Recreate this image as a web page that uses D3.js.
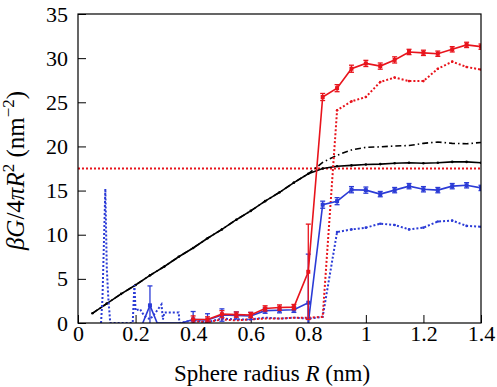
<!DOCTYPE html>
<html>
<head>
<meta charset="utf-8">
<script src="https://cdn.jsdelivr.net/npm/d3@7"></script>
<style>
  body { margin: 0; background: #fff; }
  svg text { font-family: "Liberation Serif", "Times New Roman", serif !important; fill: #000; }
  .axis text { font-size: 22px; }
  .axis path { display: none; }
  .axis line { stroke: #000; stroke-width: 1; }
</style>
</head>
<body>
<div id="chart"></div>
<script>
// ---- data ----
var xTicks = [0, 0.2, 0.4, 0.6, 0.8, 1, 1.2, 1.4];
var yTicks = [0, 5, 10, 15, 20, 25, 30, 35];
var refLevel = 17.5;

// black curves (solid and dash-dot share the rising part)
var blackR = [0.05,0.1,0.15,0.2,0.25,0.3,0.35,0.4,0.45,0.5,0.55,0.6,0.65,0.7,0.75,0.8,
              0.85,0.9,0.95,1.0,1.05,1.1,1.15,1.2,1.25,1.3,1.35,1.4];
var blackSolid = [1.1,2.2,3.3,4.3,5.4,6.4,7.5,8.5,9.6,10.6,11.7,12.7,13.8,14.8,15.9,16.9,
                  17.5,17.75,17.85,17.95,18.0,18.1,18.15,18.1,18.15,18.25,18.25,18.15];
var blackDashDot = [1.1,2.2,3.3,4.3,5.4,6.4,7.5,8.5,9.6,10.6,11.7,12.7,13.8,14.8,15.9,16.9,
                    18.2,19.0,19.6,19.9,19.95,20.05,20.1,20.35,20.5,20.35,20.3,20.45];

// red solid with error bars
var redR = [0.4,0.45,0.5,0.55,0.6,0.65,0.7,0.75,0.8,0.85,0.9,0.95,1.0,1.05,1.1,1.15,1.2,1.25,1.3,1.35,1.4];
var redVal = [0.4,0.4,1.0,0.95,0.9,1.65,1.75,1.8,5.8,25.6,26.6,28.8,29.4,29.1,29.8,30.7,30.6,30.5,31.0,31.5,31.3];
var redErr = [0.4,0.3,0.4,0.3,0.3,0.3,0.3,0.3,5.4,0.4,0.4,0.4,0.35,0.35,0.35,0.3,0.3,0.3,0.3,0.3,0.3];

// red dotted
var redDotR = [0.4,0.45,0.5,0.55,0.6,0.65,0.7,0.75,0.8,0.85,0.9,0.95,1.0,1.05,1.1,1.15,1.2,1.25,1.3,1.35,1.4];
var redDotVal = [0.2,0.1,0.4,0.3,0.4,0.5,0.5,0.6,0.6,0.7,24.1,25.1,25.6,27.3,27.8,27.4,27.4,28.8,29.6,29.0,28.7];

// blue solid with error bars
var blueR = [0.225,0.25,0.275,0.36,0.4,0.45,0.5,0.55,0.6,0.65,0.7,0.75,0.8,0.8,
             0.85,0.9,0.95,1.0,1.05,1.1,1.15,1.2,1.25,1.3,1.35,1.4];
var blueVal = [0,2.0,0,0,0.4,0.35,0.9,0.85,0.8,1.4,1.45,1.5,2.3,0,
               13.4,13.8,15.1,15.05,14.6,15.05,15.5,15.15,15.05,15.5,15.6,15.3];
var blueErr = [0,2.2,0,0,0.9,0.7,0.7,0.4,0.4,0.3,0.3,0.3,5.5,0,
               0.4,0.4,0.35,0.35,0.3,0.3,0.3,0.3,0.3,0.3,0.3,0.3];

// blue dotted
var blueDotR = [0.08,0.085,0.095,0.1,0.105,0.112,0.19,0.196,0.2,0.215,0.23,0.25,0.27,0.29,0.295,0.3,
                0.35,0.352,0.4,0.45,0.5,0.55,0.6,0.65,0.7,0.75,0.8,0.85,0.875,
                0.9,0.95,1.0,1.05,1.1,1.15,1.2,1.25,1.3,1.35,1.4];
var blueDotVal = [0,2.8,15.2,6.2,3.0,0,0,4.3,1.4,1.6,0.8,0.4,1.2,2.1,0.4,1.2,
                  1.2,0,0.3,0.1,0.5,0.4,0.4,0.6,0.5,0.6,0.5,0.7,5.5,
                  10.3,10.6,10.8,11.25,11.1,10.6,10.8,11.5,11.6,11.0,10.9];

var RED = "#e8141c", BLUE = "#2b3bd6";
var SERIF = "'Liberation Serif', 'Times New Roman', serif";

function zip(xs, ys, es) {
  return xs.map(function(x, i) { return { r: x, v: ys[i], e: es ? es[i] : 0 }; });
}

// margin convention
var margin = { top: 14, right: 16, bottom: 64, left: 78 },
    width = 497 - margin.left - margin.right,
    height = 387 - margin.top - margin.bottom;

var svg = d3.select("#chart").append("svg")
    .attr("width", 497)
    .attr("height", 387)
  .append("g")
    .attr("transform", "translate(" + margin.left + "," + margin.top + ")");

var xScale = d3.scaleLinear().domain([0, 1.4]).range([0, width]);
var yScale = d3.scaleLinear().domain([0, 35]).range([height, 0]);

svg.append("clipPath").attr("id", "plot-clip")
  .append("rect").attr("width", width).attr("height", height);

// axes, ticks pointing inward
svg.append("g")
    .attr("class", "x axis")
    .attr("transform", "translate(0," + height + ")")
    .call(d3.axisBottom(xScale).tickValues(xTicks).tickSizeInner(-8).tickSizeOuter(0)
      .tickPadding(2).tickFormat(d3.format("")))
    .attr("font-family", SERIF).attr("font-size", 22);

svg.append("g")
    .attr("class", "y axis")
    .call(d3.axisLeft(yScale).tickValues(yTicks).tickSizeInner(-8).tickSizeOuter(0)
      .tickPadding(10))
    .attr("font-family", SERIF).attr("font-size", 22);

var plot = svg.append("g").attr("clip-path", "url(#plot-clip)");

var line = d3.line()
    .x(function(d) { return xScale(d.r); })
    .y(function(d) { return yScale(d.v); });

// reference level
plot.append("line")
    .attr("x1", 0).attr("x2", width)
    .attr("y1", yScale(refLevel)).attr("y2", yScale(refLevel))
    .style("stroke", RED).style("stroke-width", 2).style("stroke-dasharray", "2,2");

function drawSeries(data, color, dash, widthPx) {
  plot.append("path")
      .datum(data)
      .attr("d", line)
      .style("fill", "none")
      .style("stroke", color)
      .style("stroke-width", widthPx)
      .style("stroke-dasharray", dash);
}

function drawDots(data, color, size) {
  plot.selectAll(null)
      .data(data)
    .enter().append("circle")
      .attr("cx", function(d) { return xScale(d.r); })
      .attr("cy", function(d) { return yScale(d.v); })
      .attr("r", size)
      .style("fill", color);
}

function drawErrors(data, color) {
  var withErr = data.filter(function(d) { return d.e > 0; });
  var g = plot.append("g").style("stroke", color).style("stroke-width", 1.3);
  withErr.forEach(function(d) {
    var x = xScale(d.r);
    g.append("line").attr("x1", x).attr("x2", x)
      .attr("y1", yScale(d.v - d.e)).attr("y2", yScale(d.v + d.e));
    g.append("line").attr("x1", x - 2.5).attr("x2", x + 2.5)
      .attr("y1", yScale(d.v - d.e)).attr("y2", yScale(d.v - d.e));
    g.append("line").attr("x1", x - 2.5).attr("x2", x + 2.5)
      .attr("y1", yScale(d.v + d.e)).attr("y2", yScale(d.v + d.e));
  });
  plot.selectAll(null)
      .data(withErr)
    .enter().append("rect")
      .attr("x", function(d) { return xScale(d.r) - 2; })
      .attr("y", function(d) { return yScale(d.v) - 2; })
      .attr("width", 4).attr("height", 4)
      .style("fill", color);
}

var blackSolidData = zip(blackR, blackSolid);
var blackDashData = zip(blackR, blackDashDot);
var redData = zip(redR, redVal, redErr);
var redDotData = zip(redDotR, redDotVal);
var blueData = zip(blueR, blueVal, blueErr);
var blueDotData = zip(blueDotR, blueDotVal);

drawSeries(blackDashData, "#000", "6,3,1.5,3", 1.6);
drawSeries(blackSolidData, "#000", null, 1.6);
drawDots(blackSolidData, "#000", 1.3);

drawSeries(blueDotData, BLUE, "2,2", 2);
drawDots(blueDotData.filter(function(d) { return d.r >= 0.9; }), BLUE, 1.3);
drawSeries(redDotData, RED, "2,2", 2);
drawDots(redDotData.filter(function(d) { return d.r >= 0.9; }), RED, 1.3);

drawSeries(blueData, BLUE, null, 1.6);
drawErrors(blueData, BLUE);
drawSeries(redData, RED, null, 1.6);
drawErrors(redData, RED);

// frame
svg.append("rect")
    .attr("width", width).attr("height", height)
    .style("fill", "none").style("stroke", "#000").style("stroke-width", 1.2);

// axis titles
var xt = svg.append("text")
    .attr("x", 194).attr("y", 367)
    .attr("text-anchor", "middle")
    .attr("font-family", SERIF)
    .style("font-size", "23px");
xt.append("tspan").text("Sphere radius ");
xt.append("tspan").style("font-style", "italic").text("R");
xt.append("tspan").text(" (nm)");

var yt = svg.append("text")
    .attr("transform", "translate(" + (-54) + "," + (height / 2 + 2) + ") rotate(-90)")
    .attr("text-anchor", "middle")
    .attr("font-family", SERIF)
    .style("font-size", "25px");
yt.append("tspan").style("font-style", "italic").text("\u03B2G");
yt.append("tspan").text("/4");
yt.append("tspan").style("font-style", "italic").text("\u03C0R");
yt.append("tspan").attr("dy", -10).style("font-size", "17px").text("2");
yt.append("tspan").attr("dy", 10).text("  (nm");
yt.append("tspan").attr("dy", -10).style("font-size", "17px").text("\u22122");
yt.append("tspan").attr("dy", 10).text(")");
</script>
</body>
</html>
